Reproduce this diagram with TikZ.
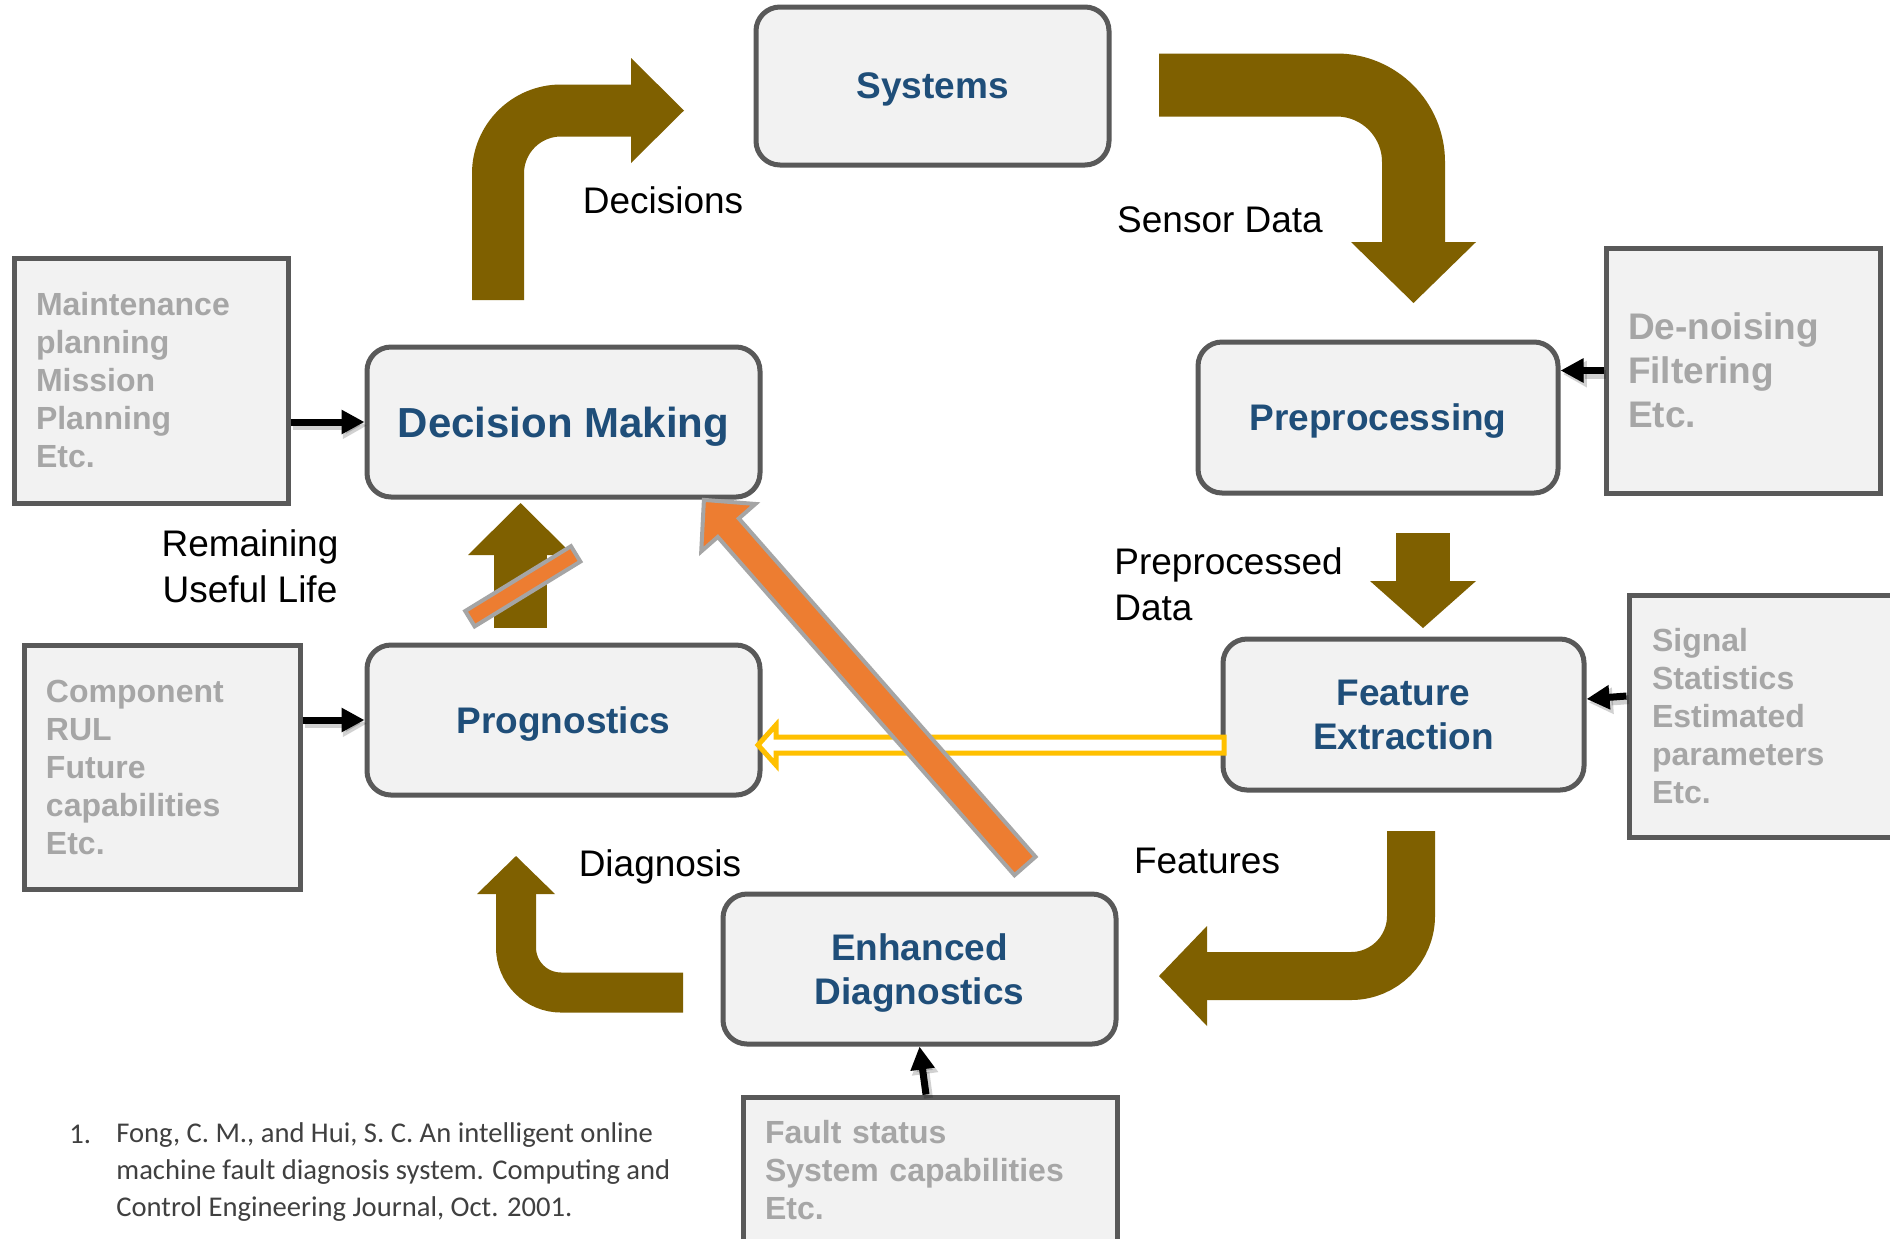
\documentclass[tikz,border=0pt]{standalone}
\usepackage{fontspec}
\setmainfont{Liberation Sans}
\newfontfamily\reffont{Carlito}
\usetikzlibrary{arrows.meta}
\definecolor{boxline}{HTML}{595959}
\definecolor{boxfill}{HTML}{F2F2F2}
\definecolor{titleblue}{HTML}{1F4E79}
\definecolor{graytext}{HTML}{A6A6A6}
\definecolor{arrowbrown}{HTML}{7F6000}
\definecolor{orangeA}{HTML}{ED7D31}
\definecolor{orangeedge}{HTML}{A5A5A5}
\definecolor{yellowA}{HTML}{FFC000}
\definecolor{reftext}{HTML}{404040}
\begin{document}
\begin{tikzpicture}[x=0.5pt,y=-0.5pt, line join=miter,
 mainbox/.style={draw=boxline,line width=2.5pt,fill=boxfill,rounded corners=12pt,text=titleblue,font=\bfseries\fontsize{18.5}{22}\selectfont,align=center,inner sep=0pt,text depth=0pt},
 graybox/.style={draw=boxline,line width=2.5pt,fill=boxfill,text=graytext,font=\bfseries\fontsize{16}{19}\selectfont,align=left,inner sep=0pt},
 lbl/.style={font=\fontsize{18.5}{23}\selectfont,inner sep=0pt,text=black},
 brownshaft/.style={draw=arrowbrown,line width=#1,line cap=butt},
 brownhead/.style={fill=arrowbrown},
 orangebar/.style={fill=orangeA,draw=orangeedge,line width=2pt},
 yellowarrow/.style={draw=yellowA,fill=white,line width=2.5pt},
 blackarrow/.style={draw=black,line width=3.5pt,-{Triangle[length=11.5pt,width=11.5pt]}},
 arrowshadow/.style={draw=black,opacity=0.18,line width=4.5pt,-{Triangle[length=12pt,width=12.5pt]},transform canvas={shift={(1.2pt,-1.8pt)}}},
 reftxt/.style={font=\reffont\fontsize{14.3}{18.5}\selectfont,text=reftext,inner sep=0pt}
]
\useasboundingbox (0,0) rectangle (1890,1238);
\fill[white] (0,0) rectangle (1890,1238);
\clip (0,0) rectangle (1890,1238);

% main boxes
\node[mainbox,minimum width=176.5pt,minimum height=79pt] (sys) at (932.5,86) {Systems};
\node[mainbox,minimum width=196.5pt,minimum height=75pt,font=\bfseries\fontsize{21}{24}\selectfont] (dm) at (563.5,422) {Decision Making};
\node[mainbox,minimum width=180pt,minimum height=75.5pt] (pre) at (1378,417.5) {Preprocessing};
\node[mainbox,minimum width=196.5pt,minimum height=75pt] (prog) at (563.5,720) {Prognostics};
\node[mainbox,minimum width=180.5pt,minimum height=75.5pt] (fe) at (1403.5,714.5) {Feature\\Extraction};
\node[mainbox,minimum width=196.5pt,minimum height=75pt] (ed) at (919.5,969) {Enhanced\\Diagnostics};

% gray boxes
\node[graybox,minimum width=137pt,minimum height=122.5pt,text width=115pt] (maint) at (151,380.5) {Maintenance\\planning\\Mission\\Planning\\Etc.};
\node[graybox,minimum width=137pt,minimum height=122.5pt,text width=115pt,font=\bfseries\fontsize{18.5}{22}\selectfont] (den) at (1743,370.5) {De-noising\\Filtering\\Etc.};
\node[graybox,minimum width=138pt,minimum height=122pt,text width=116pt] (comp) at (162,767) {Component\\RUL\\Future\\capabilities\\Etc.};
\node[graybox,minimum width=137pt,minimum height=121pt,text width=114pt] (sig) at (1766,716) {Signal\\Statistics\\Estimated\\parameters\\Etc.};
\node[graybox,minimum width=187pt,minimum height=73pt,text width=165pt] (fault) at (930,1170) {Fault status\\System capabilities\\Etc.};

% brown block arrows
\draw[brownshaft=26pt,rounded corners=31.5pt] (498,300) -- (498,110.5) -- (632,110.5);
\fill[brownhead] (631,58) -- (684,110.5) -- (631,163) -- cycle;

\draw[brownshaft=31.5pt,rounded corners=38.5pt] (1159,85) -- (1413.5,85) -- (1413.5,243);
\fill[brownhead] (1351,242) -- (1413.5,303) -- (1476,242) -- cycle;

\draw[brownshaft=27pt] (1423,533) -- (1423,582);
\fill[brownhead] (1370,581) -- (1423,628) -- (1476,581) -- cycle;

\draw[brownshaft=24pt,rounded corners=30pt] (1411,831) -- (1411,976) -- (1206,976);
\fill[brownhead] (1207,926) -- (1159,976) -- (1207,1026) -- cycle;

\draw[brownshaft=20pt,rounded corners=22.5pt] (683,992.5) -- (516,992.5) -- (516,893);
\fill[brownhead] (477,894) -- (516,856) -- (555,894) -- cycle;

\draw[brownshaft=26.5pt] (520.5,628) -- (520.5,554);
\fill[brownhead] (468,555) -- (520.5,503) -- (573,555) -- cycle;

% yellow hollow arrow
\draw[yellowarrow] (1224,737) -- (776,737) -- (776,725) -- (758,745) -- (776,765) -- (776,753) -- (1224,753) -- cycle;

% orange arrows
\begin{scope}[shift={(1025,866)},rotate=131.25]
\draw[orangebar] (0,-14) -- (450,-14) -- (450,-36) -- (487,0) -- (450,36) -- (450,14) -- (0,14) -- cycle;
\end{scope}
\begin{scope}[shift={(522.8,586.3)},rotate=31.5]
\draw[orangebar] (-62,-9) rectangle (62,9);
\end{scope}

% black arrows (soft shadow first)
\draw[arrowshadow] (maint.east |- dm.west) -- (dm.west);
\draw[arrowshadow] (den.west) -- (den.west -| pre.east);
\draw[arrowshadow] ([yshift=10pt]sig.west) -- ([yshift=7.75pt]fe.east);
\draw[arrowshadow] (comp.east |- prog.west) -- (prog.west);
\draw[arrowshadow] ([xshift=-2pt]fault.north) -- (ed.south);
\draw[blackarrow] (maint.east |- dm.west) -- (dm.west);
\draw[blackarrow] (den.west) -- (den.west -| pre.east);
\draw[blackarrow] ([yshift=10pt]sig.west) -- ([yshift=7.75pt]fe.east);
\draw[blackarrow] (comp.east |- prog.west) -- (prog.west);
\draw[blackarrow] ([xshift=-2pt]fault.north) -- (ed.south);

% labels
\node[lbl,anchor=base] (lDec) at (663,213) {Decisions};
\node[lbl,anchor=base] (lSen) at (1220,232) {Sensor Data};
\node[lbl,align=center] (lRUL) at (250,566) {Remaining\\Useful Life};
\node[lbl,align=left,anchor=west] (lPre) at (1114,584) {Preprocessed\\Data};
\node[lbl,anchor=base] (lDia) at (660,876) {Diagnosis};
\node[lbl,anchor=base] (lFea) at (1207,873) {Features};

% reference
\node[reftxt,anchor=base west] (rnum) at (69,1143) {1.};
\node[reftxt,align=left,anchor=north west] (rtext) at (116,1122) {Fong, C. M., and Hui, S. C. An intelligent online\\machine fault diagnosis system. Computing and\\Control Engineering Journal, Oct. 2001.};
\end{tikzpicture}
\end{document}
